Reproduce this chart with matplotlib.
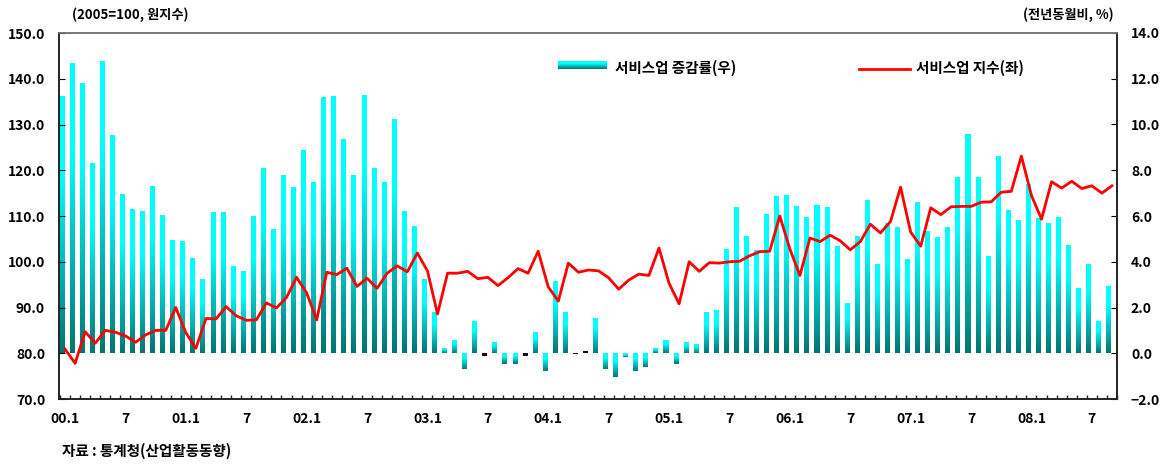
import numpy as np
import matplotlib
matplotlib.use('Agg')
import matplotlib.pyplot as plt
from matplotlib.colors import LinearSegmentedColormap
from matplotlib.lines import Line2D

plt.rcParams['font.family'] = ['Noto Sans CJK KR', 'DejaVu Sans']

# 월별 데이터 (2000.1 ~ 2008.9)
증감률 = [11.25, 12.69, 11.81, 8.32, 12.78, 9.54, 6.96, 6.31, 6.22, 7.31, 6.04, 4.95,
         4.91, 4.16, 3.25, 6.17, 6.17, 3.81, 3.61, 6.0, 8.1, 5.43, 7.79, 7.27,
         8.88, 7.49, 11.2, 11.25, 9.37, 7.79, 11.29, 8.1, 7.49, 10.24, 6.22, 5.56,
         3.25, 1.8, 0.25, 0.6, -0.71, 1.42, -0.1, 0.5, -0.45, -0.45, -0.1, 0.94,
         -0.79, 3.17, 1.81, -0.05, 0.1, 1.55, -0.71, -1.06, -0.18, -0.79, -0.62, 0.25,
         0.6, -0.45, 0.5, 0.41, 1.81, 1.9, 4.56, 6.4, 5.13, 4.5, 6.07, 6.88,
         6.92, 6.44, 5.96, 6.48, 6.4, 4.69, 2.2, 5.13, 6.7, 3.91, 5.7, 5.52,
         4.13, 6.61, 5.35, 5.09, 5.52, 7.71, 9.59, 7.71, 4.26, 8.63, 6.27, 5.83,
         7.4, 5.92, 5.7, 5.96, 4.74, 2.86, 3.91, 1.42, 2.95]

지수 = [80.9, 77.8, 84.7, 82.2, 85.0, 84.6, 83.8, 82.4, 84.0, 85.0, 85.0, 90.0,
       84.5, 81.1, 87.6, 87.5, 90.2, 88.2, 87.2, 87.3, 91.0, 89.9, 92.2, 96.6,
       93.2, 87.3, 97.7, 97.2, 98.6, 94.6, 96.4, 94.2, 97.5, 99.1, 97.8, 101.9,
       98.0, 88.6, 97.5, 97.5, 97.9, 96.3, 96.6, 94.8, 96.5, 98.5, 97.5, 102.3,
       94.5, 91.4, 99.7, 97.7, 98.2, 98.0, 96.5, 94.0, 96.0, 97.3, 97.0, 103.0,
       95.3, 90.8, 100.0, 97.9, 99.8, 99.7, 100.0, 100.1, 101.3, 102.2, 102.3, 110.0,
       102.8, 97.0, 105.2, 104.4, 105.8, 104.6, 102.6, 104.4, 108.2, 106.3, 108.8, 116.3,
       106.5, 103.4, 111.8, 110.3, 112.0, 112.1, 112.1, 113.0, 113.1, 115.2, 115.4, 123.1,
       114.5, 109.3, 117.5, 116.1, 117.6, 116.0, 116.6, 115.0, 116.6]

x라벨 = ['00.1', '7', '01.1', '7', '02.1', '7', '03.1', '7', '04.1', '7',
        '05.1', '7', '06.1', '7', '07.1', '7', '08.1', '7']

x = np.arange(len(증감률))
v = np.array(증감률)

fig = plt.figure(figsize=(11.71, 4.69), dpi=100)
ax = fig.add_axes([59 / 1171, 70 / 469, 1058 / 1171, 366 / 469])  # 막대 (우축)
ax2 = ax.twinx()  # 선 (좌축)

# 막대 색: 위쪽 시안 -> 아래쪽 청록 (겹쳐 그려서 틈이 없게)
cmap = LinearSegmentedColormap.from_list('bar', [(0, '#00ffff'), (0.3, '#00ffff'), (1, '#007470')])
작은값 = np.abs(v) <= 0.12
vv = np.where(작은값, 0, v)
N = 60
for k in range(N):
    t = (k + 0.5) / N
    cols = [cmap(1 - t) if val >= 0 else cmap(t) for val in vv]
    ax.bar(x - 0.3, vv * (N - k) / N, bottom=vv * k / N, width=0.5, color=cols,
           linewidth=0, zorder=2)
# 아주 작은 값은 어둡게 보임
ax.bar(x[작은값] - 0.3, v[작은값], width=0.5, color='#2a0505', linewidth=0, zorder=2)

ax2.plot(x, 지수, color='#ff0000', lw=2, zorder=3, solid_joinstyle='round')

ax.set_xlim(-0.6, 104.4)
ax.set_ylim(-2, 14)
ax2.set_ylim(70, 150)

# 축 위치 바꾸기
ax.yaxis.tick_right()
ax2.yaxis.tick_left()
ax.set_yticks(np.arange(-2, 15, 2))
ax.set_yticklabels([f'{t:.1f}'.replace('-', '−') for t in np.arange(-2, 15, 2)])
ax2.set_yticks(np.arange(70, 151, 10))
ax2.set_yticklabels([f'{t:.1f}' for t in np.arange(70, 151, 10)])

ax.set_xticks(np.arange(0, 105, 6))
ax.set_xticklabels(x라벨)
ax.set_xticks(np.arange(-0.5, 105, 1), minor=True)
ax.tick_params(axis='x', which='major', length=0, pad=9, labelsize=10)
ax.tick_params(axis='x', which='minor', length=3, direction='in', width=1, color='#222222')
ax.tick_params(axis='y', which='major', length=4, direction='in', pad=10, labelsize=10,
               right=True, left=False, labelright=True, labelleft=False)
ax2.tick_params(axis='y', which='major', length=4, direction='in', pad=10, labelsize=10,
                left=True, right=False, labelleft=True, labelright=False)
for a in (ax, ax2):
    for t in a.get_yticklabels() + a.get_xticklabels():
        t.set_fontweight('bold')
for a in (ax, ax2):
    for s in a.spines.values():
        s.set_color('#222222')
        s.set_linewidth(1.2)
    a.spines['top'].set_color('#777777')

# 범례 (수동)
grad = np.linspace(0, 1, 64).reshape(-1, 1)
lax = fig.add_axes([558 / 1171, (469 - 69) / 469, 49 / 1171, 8 / 469])
lax.imshow(grad, cmap=cmap, aspect='auto', extent=(0, 1, 0, 1))
lax.axis('off')
fig.text(615 / 1171, 1 - 68 / 469, '서비스업 증감률(우)', fontsize=10.5, va='center', ha='left',
         fontweight='bold')
fig.add_artist(Line2D([859 / 1171, 910 / 1171], [1 - 69 / 469, 1 - 69 / 469],
                      color='#ff0000', lw=2, transform=fig.transFigure))
fig.text(916 / 1171, 1 - 68 / 469, '서비스업 지수(좌)', fontsize=10.5, va='center', ha='left',
         fontweight='bold')

fig.text(72 / 1171, 1 - 15 / 469, '(2005=100, 원지수)', fontsize=9.5, va='center', ha='left',
         fontweight='bold')
fig.text(1114 / 1171, 1 - 15 / 469, '(전년동월비, %)', fontsize=9.5, va='center', ha='right',
         fontweight='bold')
fig.text(62 / 1171, 1 - 451 / 469, '자료 : 통계청(산업활동동향)', fontsize=10.5, va='center',
         ha='left', fontweight='bold')

fig.savefig('out.png', dpi=100)
